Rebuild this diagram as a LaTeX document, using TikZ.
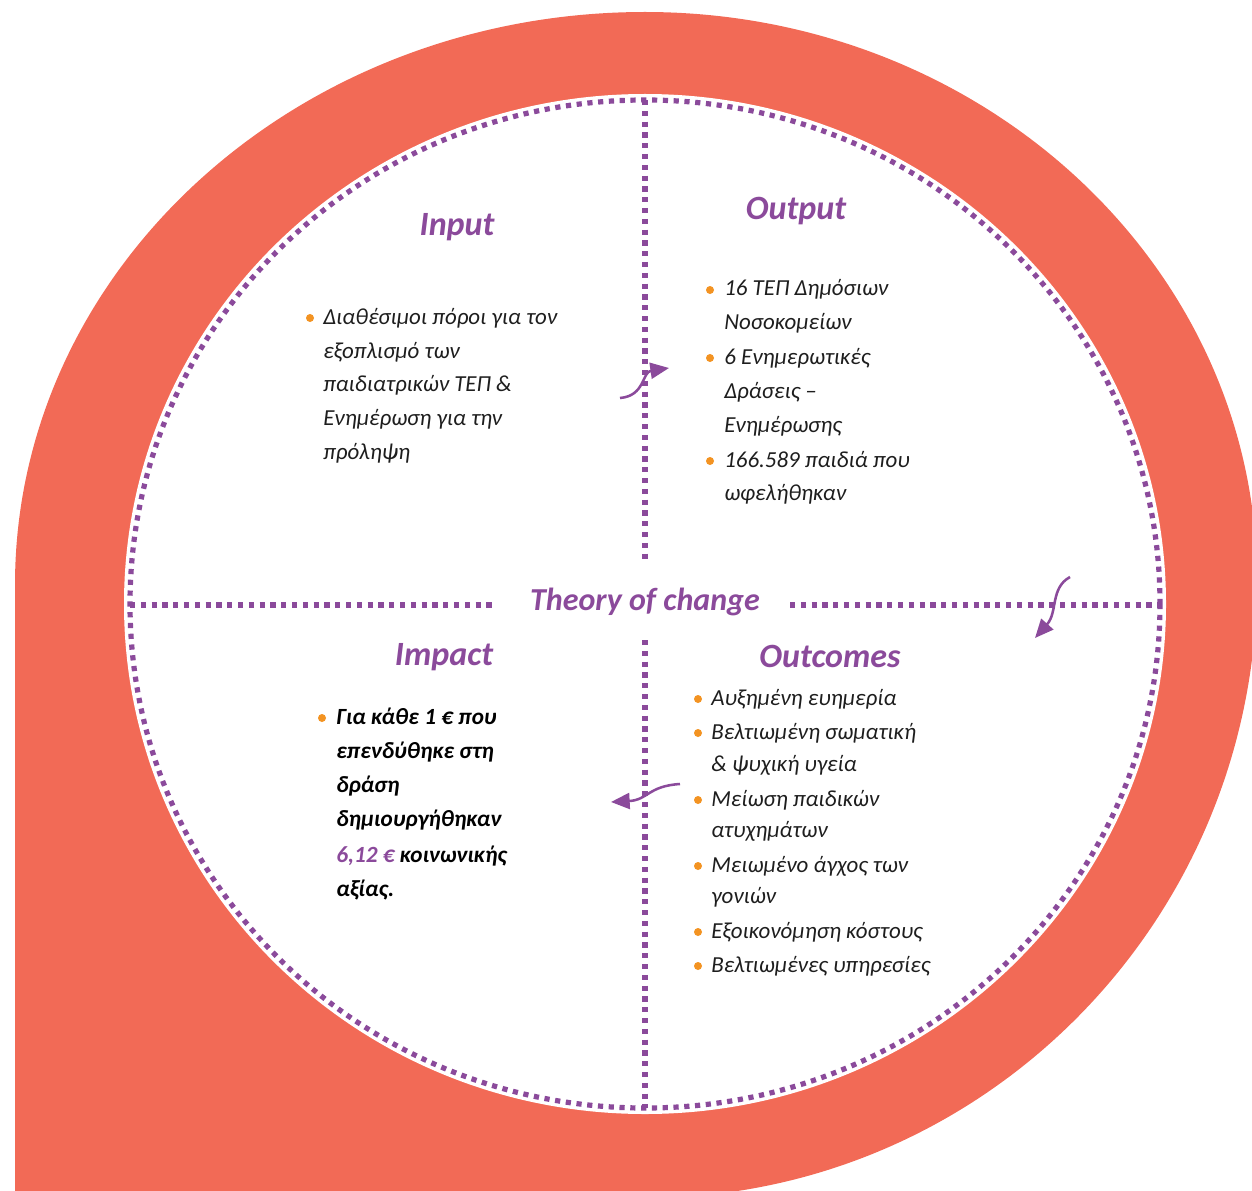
\documentclass[tikz,border=0pt]{standalone}
\usepackage{fontspec}
\setmainfont{Carlito}
\usetikzlibrary{arrows.meta}
\definecolor{coral}{HTML}{F26A56}
\definecolor{purp}{HTML}{8B4A9B}
\definecolor{dotor}{HTML}{F39322}
\definecolor{txt}{HTML}{1E1E1E}
\begin{document}
\begin{tikzpicture}[x=0.75pt,y=-0.75pt,
  dotline/.style={draw=purp,line width=3.9pt,dash pattern=on 3.9pt off 4.2pt},
  head/.style={font=\fontsize{25.5}{28}\selectfont\bfseries\itshape,text=purp,inner sep=0,anchor=base},
  body/.style={font=\fontsize{17.2}{20}\selectfont\itshape,text=txt,anchor=base west,inner sep=0},
  boldtxt/.style={font=\fontsize{17.4}{20}\selectfont\bfseries\itshape,text=black,anchor=base west,inner sep=0},
  bul/.style={circle,fill=dotor,inner sep=0,minimum size=6pt},
  arr/.style={draw=purp,line width=1.9pt,-{Triangle[length=14pt,width=12pt]}}]
\useasboundingbox (0,0) rectangle (1252,1191);
\begin{scope}
\clip (0,0) rectangle (1252,1191);
\fill[coral] (15,1220) -- (15,585) .. controls (15,269) and (297,12) .. (645,12)
  arc[start angle=-90, end angle=0, x radius=612, y radius=568]
  arc[start angle=0, end angle=90, x radius=612, y radius=618]
  -- (15,1198) -- cycle;
\end{scope}
\fill[white] (645,604) ellipse [x radius=521, y radius=510];
\draw[dotline] (645,604) ellipse [x radius=515, y radius=504];
\draw[dotline] (130,605) -- (497,605);
\draw[dotline] (790,605) -- (1160,605);
\draw[dotline] (645,100) -- (645,562);
\draw[dotline] (645,640) -- (645,1108);

% headings
\node[head] (hin) at (457,236) {Input};
\node[head] (hout) at (796,220) {Output};
\node[head] (himp) at (444,665) {Impact};
\node[head] (hoc) at (830,667) {Outcomes};
\node[head,font=\fontsize{24}{28}\selectfont\bfseries\itshape] (htoc) at (645,610) {Theory of change};

% input
\node[bul] (bi1) at (310,318) {};
\node[body] (i1) at (323,324) {Διαθέσιμοι πόροι για τον};
\node[body] (i2) at (323,358) {εξοπλισμό των};
\node[body] (i3) at (323,391) {παιδιατρικών ΤΕΠ \&};
\node[body] (i4) at (323,425) {Ενημέρωση για την};
\node[body] (i5) at (323,459) {πρόληψη};

% output
\node[bul] (bo1) at (710,290) {};
\node[bul] (bo2) at (710,358) {};
\node[bul] (bo3) at (710,461) {};
\node[body] (o1) at (724,296) {16 ΤΕΠ Δημόσιων};
\node[body] (o2) at (724,329) {Νοσοκομείων};
\node[body] (o3) at (724,364) {6 Ενημερωτικές};
\node[body] (o4) at (724,398) {Δράσεις –};
\node[body] (o5) at (724,432) {Ενημέρωσης};
\node[body] (o6) at (724,467) {166.589 παιδιά που};
\node[body] (o7) at (724,500) {ωφελήθηκαν};

% impact
\node[bul] (bm1) at (322,718) {};
\node[boldtxt] (m1) at (336,724) {Για κάθε 1 € που};
\node[boldtxt] (m2) at (336,758) {επενδύθηκε στη};
\node[boldtxt] (m3) at (336,792) {δράση};
\node[boldtxt] (m4) at (336,826) {δημιουργήθηκαν};
\node[boldtxt] (m5) at (336,862) {\textcolor{purp}{6,12 €} κοινωνικής};
\node[boldtxt] (m6) at (336,896) {αξίας.};

% outcomes
\node[bul] (bc1) at (698,699) {};
\node[bul] (bc2) at (698,733) {};
\node[bul] (bc3) at (698,800) {};
\node[bul] (bc4) at (698,866) {};
\node[bul] (bc5) at (698,932) {};
\node[bul] (bc6) at (698,966) {};
\node[body] (c1) at (711,705) {Αυξημένη ευημερία};
\node[body] (c2) at (711,739) {Βελτιωμένη σωματική};
\node[body] (c3) at (711,771) {\& ψυχική υγεία};
\node[body] (c4) at (711,806) {Μείωση παιδικών};
\node[body] (c5) at (711,837) {ατυχημάτων};
\node[body] (c6) at (711,872) {Μειωμένο άγχος των};
\node[body] (c7) at (711,903) {γονιών};
\node[body] (c8) at (711,938) {Εξοικονόμηση κόστους};
\node[body] (c9) at (711,972) {Βελτιωμένες υπηρεσίες};

% arrows
\coordinate (a1s) at (620,398);
\coordinate (a1e) at (669,368);
\coordinate (a2s) at (1070,577);
\coordinate (a2e) at (1035,638);
\coordinate (a3s) at (680,784);
\coordinate (a3e) at (611,802);
\draw[arr] (a1s) .. controls (645,396) and (642,372) .. (a1e);
\draw[arr] (a2s) .. controls (1050,588) and (1058,612) .. (a2e);
\draw[arr] (a3s) .. controls (648,786) and (648,800) .. (a3e);
\end{tikzpicture}
\end{document}
